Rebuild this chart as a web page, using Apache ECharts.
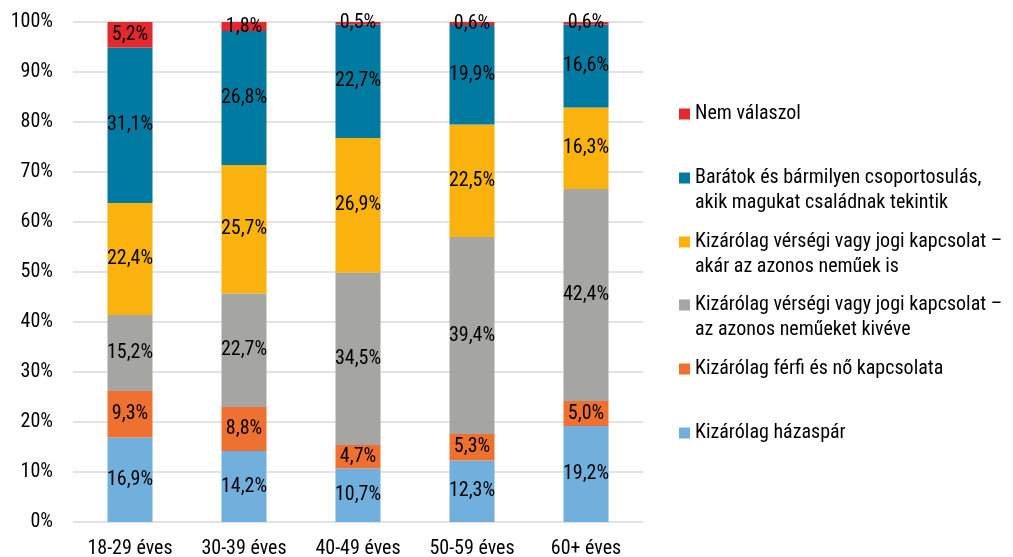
<!DOCTYPE html>
<html>
<head>
<meta charset="utf-8">
<script src="https://cdn.jsdelivr.net/npm/echarts@6/dist/echarts.min.js"></script>
<style>
  html, body { margin: 0; padding: 0; background: #fff; }
  #chart { width: 1013px; height: 557px; }
</style>
</head>
<body>
<div id="chart"></div>
<script>
// korcsoportok
const categories = ['18-29 éves', '30-39 éves', '40-49 éves', '50-59 éves', '60+ éves'];
const yTicks = [0, 10, 20, 30, 40, 50, 60, 70, 80, 90, 100];

// sorozatok alulról felfelé
const hazaspar = [16.9, 14.2, 10.7, 12.3, 19.2];
const ferfiNo = [9.3, 8.8, 4.7, 5.3, 5.0];
const azonosNelkul = [15.2, 22.7, 34.5, 39.4, 42.4];
const azonosIs = [22.4, 25.7, 26.9, 22.5, 16.3];
const baratok = [31.1, 26.8, 22.7, 19.9, 16.6];
const nemValaszol = [5.2, 1.8, 0.5, 0.6, 0.6];

const seriesNames = [
  'Kizárólag házaspár',
  'Kizárólag férfi és nő kapcsolata',
  'Kizárólag vérségi vagy jogi kapcsolat –\naz azonos neműeket kivéve',
  'Kizárólag vérségi vagy jogi kapcsolat –\nakár az azonos neműek is',
  'Barátok és bármilyen csoportosulás,\nakik magukat családnak tekintik',
  'Nem válaszol'
];
const seriesData = [hazaspar, ferfiNo, azonosNelkul, azonosIs, baratok, nemValaszol];
const colors = ['#71AFDD', '#EE7131', '#A5A5A1', '#FAB20F', '#007AA0', '#E4292E'];

const FONT = '"Roboto Condensed", "DejaVu Sans Condensed", Roboto, sans-serif';

const chart = echarts.init(document.getElementById('chart'));

// legenda: egy komponens elemenként, a függőleges helyek a kép szerint
// (a kétsoros szövegek elé üres sor kerül, így a jel az első sorhoz igazodik)
const legendCenters = [433, 369, 305, 242, 178, 114];
const legends = seriesNames.map((name, i) => {
  const twoLines = name.indexOf('\n') >= 0;
  return {
    data: [name],
    left: 679,
    top: legendCenters[i] - (twoLines ? 37.5 : 12.5),
    padding: 0,
    orient: 'vertical',
    itemWidth: 11,
    itemHeight: 11,
    itemGap: 0,
    icon: 'rect',
    selectedMode: false,
    formatter: n => (twoLines ? ' \n' : '') + n,
    textStyle: {
      fontFamily: FONT,
      fontSize: 20,
      color: '#000',
      lineHeight: 25
    }
  };
});

chart.setOption({
  animation: false,
  color: colors,
  textStyle: { fontFamily: FONT },
  legend: legends,
  grid: { left: 73, right: 370, top: 22, bottom: 35, containLabel: false, outerBoundsMode: 'none' },
  xAxis: {
    type: 'category',
    data: categories,
    axisLine: { show: false },
    axisTick: { show: false },
    axisLabel: { fontFamily: FONT, fontSize: 20, color: '#000', margin: 17 }
  },
  yAxis: {
    type: 'value',
    min: yTicks[0],
    max: yTicks[yTicks.length - 1],
    interval: 10,
    axisLine: { show: false },
    axisTick: { show: false },
    splitLine: { lineStyle: { color: '#D9D9D9', width: 1.5 } },
    axisLabel: { fontFamily: FONT, fontSize: 20, color: '#000', margin: 20, formatter: '{value}%' }
  },
  series: seriesNames.map((name, i) => ({
    name: name,
    type: 'bar',
    stack: 'total',
    barWidth: 45,
    data: seriesData[i],
    itemStyle: { color: colors[i] },
    label: {
      show: true,
      position: 'inside',
      fontFamily: FONT,
      fontSize: 20,
      color: '#000',
      formatter: p => p.value.toFixed(1).replace('.', ',') + '%'
    }
  }))
});
</script>
</body>
</html>
